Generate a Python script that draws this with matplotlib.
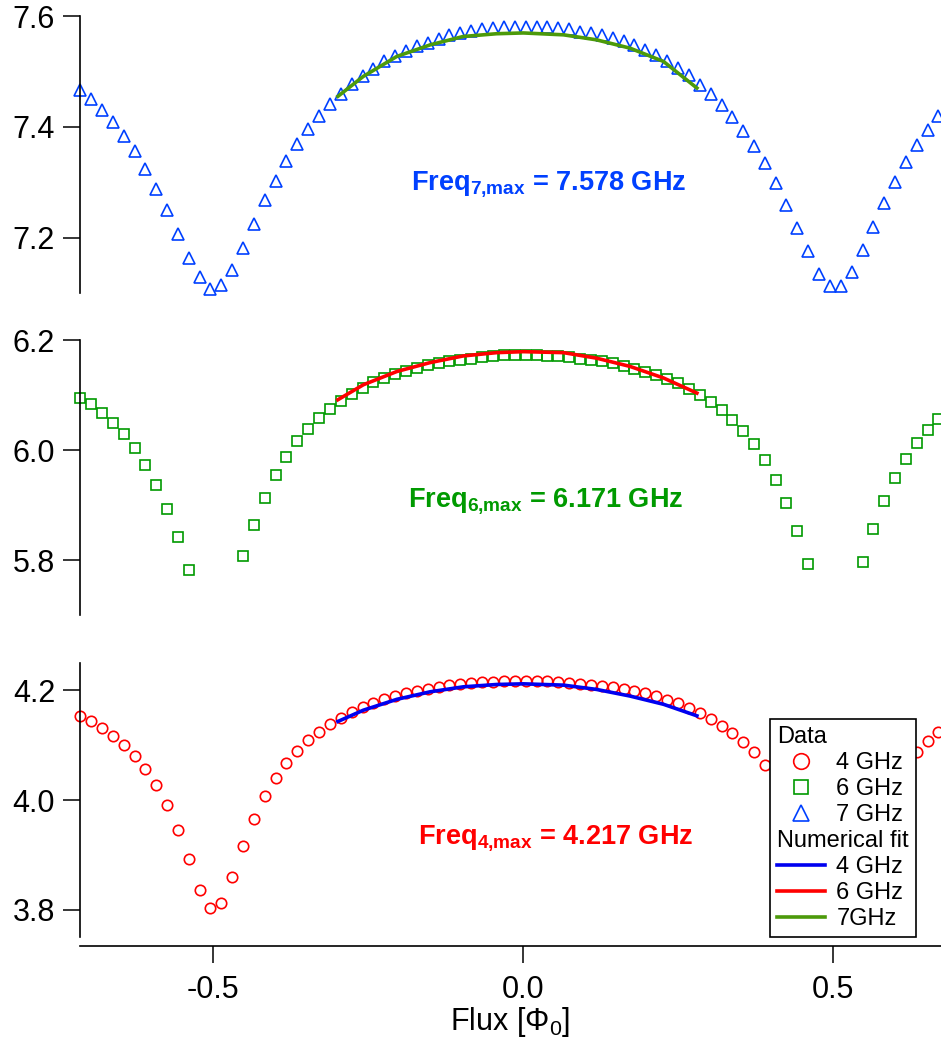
import matplotlib
matplotlib.use('Agg')
import numpy as np
import matplotlib.pyplot as plt
from matplotlib.lines import Line2D

plt.rcParams['font.family'] = ['Liberation Sans', 'DejaVu Sans']
plt.rcParams['mathtext.fontset'] = 'custom'
plt.rcParams['mathtext.rm'] = 'Liberation Sans'
plt.rcParams['mathtext.it'] = 'Liberation Sans:italic'
plt.rcParams['mathtext.bf'] = 'Liberation Sans:bold'

nan = np.nan

# flux bias points (in units of flux quantum)
flux = [-0.715, -0.6973, -0.680, -0.6623, -0.6445, -0.6268, -0.6097, -0.5919, -0.5747, -0.5569,
        -0.5397, -0.5219, -0.5048, -0.4871, -0.4694, -0.4521, -0.4344, -0.4171, -0.3994, -0.3823,
        -0.3645, -0.3468, -0.3295, -0.3118, -0.2945, -0.2768, -0.2590, -0.2419, -0.2242, -0.2065,
        -0.1892, -0.1719, -0.1542, -0.1365, -0.1194, -0.1016, -0.0844, -0.0671, -0.0494, -0.0316,
        -0.0139, 0.0039, 0.0216, 0.0387, 0.0565, 0.0742, 0.0919, 0.1092, 0.1269, 0.1442,
        0.1619, 0.1790, 0.1968, 0.2145, 0.2323, 0.2500, 0.2673, 0.2850, 0.3023, 0.3200,
        0.3371, 0.3544, 0.3721, 0.3894, 0.4071, 0.4242, 0.4419, 0.4597, 0.4769, 0.4947,
        0.5119, 0.5297, 0.5474, 0.5645, 0.5818, 0.5995, 0.6173, 0.6350, 0.6523, 0.6694]

# measured frequencies [GHz]
f7 = [7.467, 7.451, 7.431, 7.409, 7.384, 7.356, 7.323, 7.287, 7.249, 7.206,
      7.164, 7.128, 7.108, 7.114, 7.142, 7.182, 7.225, 7.267, 7.303, 7.338,
      7.369, 7.396, 7.420, 7.441, 7.460, 7.478, 7.492, 7.505, 7.518, 7.527,
      7.537, 7.545, 7.552, 7.559, 7.565, 7.569, 7.573, 7.577, 7.578, 7.580,
      7.581, 7.581, 7.581, 7.580, 7.578, 7.577, 7.572, 7.570, 7.566, 7.560,
      7.554, 7.547, 7.539, 7.530, 7.519, 7.507, 7.493, 7.476, 7.459, 7.439,
      7.418, 7.393, 7.365, 7.334, 7.298, 7.259, 7.217, 7.175, 7.135, 7.113,
      7.113, 7.138, 7.177, 7.220, 7.263, 7.301, 7.336, 7.368, 7.395, 7.420]

f6 = [6.094, 6.083, 6.067, 6.050, 6.029, 6.004, 5.973, 5.937, 5.893, 5.841,
      5.781, nan, nan, nan, nan, 5.807, 5.8645, 5.913, 5.954, 5.988,
      6.016, 6.039, 6.058, 6.075, 6.090, 6.102, 6.113, 6.123, 6.131, 6.138,
      6.1445, 6.149, 6.154, 6.158, 6.162, 6.164, 6.166, 6.170, 6.171, 6.172,
      6.172, 6.172, 6.172, 6.1716, 6.171, 6.1687, 6.166, 6.164, 6.161, 6.158,
      6.1535, 6.148, 6.142, 6.136, 6.129, 6.121, 6.111, 6.100, 6.087, 6.073,
      6.055, 6.035, 6.0105, 5.9815, 5.946, 5.904, 5.8525, 5.793, nan, nan,
      nan, nan, 5.797, 5.856, 5.907, 5.949, 5.984, 6.012, 6.037, 6.057]

f4 = [4.154, 4.144, 4.132, 4.117, 4.101, 4.080, 4.056, 4.0265, 3.990, 3.945,
      3.892, 3.836, 3.8025, 3.812, 3.860, 3.9156, 3.9657, 4.007, 4.041, 4.067,
      4.090, 4.109, 4.125, 4.139, 4.1505, 4.161, 4.170, 4.1776, 4.184, 4.190,
      4.195, 4.199, 4.203, 4.2065, 4.209, 4.2115, 4.213, 4.2145, 4.2155, 4.217,
      4.2174, 4.2174, 4.2174, 4.217, 4.2155, 4.2137, 4.212, 4.210, 4.208, 4.2054,
      4.2023, 4.1987, 4.1946, 4.189, 4.183, 4.1765, 4.1686, 4.1584, 4.1476, 4.135,
      4.1223, 4.1066, 4.0873, 4.063, 4.038, 4.005, 3.965, 3.915, 3.860, 3.810,
      3.805, 3.835, 3.890, 3.943, 3.988, 4.025, 4.058, 4.088, 4.108, 4.124]

# numerical fits
fit_flux = [-0.299, -0.258, -0.204, -0.150, -0.097, -0.043, 0.0, 0.065, 0.118, 0.172, 0.226, 0.280]
fit7 = [7.455, 7.491, 7.527, 7.548, 7.563, 7.568, 7.5694, 7.566, 7.557, 7.542, 7.518, 7.470]
fit6 = [6.0914, 6.1186, 6.1427, 6.159, 6.171, 6.177, 6.1788, 6.177, 6.167, 6.152, 6.131, 6.1035]
fit4 = [4.1433, 4.1639, 4.1837, 4.1975, 4.2065, 4.2108, 4.212, 4.2096, 4.2018, 4.1897, 4.1747, 4.1536]

c_blue = '#0040FF'
c_green = '#009A00'
c_red = '#FF0000'
c_fit7 = '#4C9A0A'
c_fit4 = '#0000F0'

W, H = 941, 1042
fig = plt.figure(figsize=(W / 100, H / 100), dpi=100)
left = 80 / W
width = 1 - left
ax7 = fig.add_axes([left, 1 - 293 / H, width, 277 / H])
ax6 = fig.add_axes([left, 1 - 615 / H, width, 275 / H], sharex=ax7)
ax4 = fig.add_axes([left, 1 - 937 / H, width, 274 / H], sharex=ax7)

ms = 7.5
mew = 1.2
p4, = ax4.plot(flux, f4, 'o', ms=ms, mfc='none', mec=c_red, mew=mew, clip_on=False, label='4 GHz')
p6, = ax6.plot(flux, f6, 's', ms=ms - 0.5, mfc='none', mec=c_green, mew=mew, clip_on=False, label='6 GHz')
p7, = ax7.plot(flux, f7, '^', ms=ms + 0.5, mfc='none', mec=c_blue, mew=mew, clip_on=False, label='7 GHz')

l4, = ax4.plot(fit_flux, fit4, '-', color=c_fit4, lw=2.6, label='4 GHz')
l6, = ax6.plot(fit_flux, fit6, '-', color=c_red, lw=2.6, label='6 GHz')
l7, = ax7.plot(fit_flux, fit7, '-', color=c_fit7, lw=2.6, label='7GHz')

ax7.set_ylim(7.1, 7.6)
ax6.set_ylim(5.7, 6.2)
ax4.set_ylim(3.75, 4.25)
ax7.set_yticks([7.2, 7.4, 7.6])
ax6.set_yticks([5.8, 6.0, 6.2])
ax4.set_yticks([3.8, 4.0, 4.2])
ax4.set_xlim(-0.715, 0.6737)
ax4.set_xticks([-0.5, 0.0, 0.5])

for ax in (ax7, ax6, ax4):
    for s in ('top', 'right'):
        ax.spines[s].set_visible(False)
    ax.spines['left'].set_linewidth(1.2)
    ax.spines['bottom'].set_linewidth(1.2)
    ax.tick_params(axis='both', direction='out', length=12, width=1.1, labelsize=22)
    ax.tick_params(axis='y', pad=6)
    ax.yaxis.set_major_formatter(plt.FormatStrFormatter('%.1f'))
for ax in (ax7, ax6):
    ax.spines['bottom'].set_visible(False)
    ax.tick_params(axis='x', bottom=False, labelbottom=False)
ax4.spines['bottom'].set_position(('outward', 6.3))
ax4.tick_params(axis='x', pad=9)
ax4.xaxis.set_major_formatter(plt.FormatStrFormatter('%.1f'))
ax4.set_xlabel('Flux [Φ$_0$]', fontsize=22, labelpad=0)

ax7.text(0.385, 0.372, r'Freq$_{\mathbf{7{,}max}}$ = 7.578 GHz', transform=ax7.transAxes,
         color=c_blue, fontsize=19.5, fontweight='bold', ha='left', va='baseline')
ax6.text(0.381, 0.394, r'Freq$_{\mathbf{6{,}max}}$ = 6.171 GHz', transform=ax6.transAxes,
         color=c_green, fontsize=19.5, fontweight='bold', ha='left', va='baseline')
ax4.text(0.392, 0.342, r'Freq$_{\mathbf{4{,}max}}$ = 4.217 GHz', transform=ax4.transAxes,
         color=c_red, fontsize=19.5, fontweight='bold', ha='left', va='baseline')

# legend with two section headers
hdr_data = Line2D([], [], ls='none')
hdr_fit = Line2D([], [], ls='none')
handles = [hdr_data, p4, p6, p7, hdr_fit, l4, l6, l7]
labels = ['Data', '4 GHz', '6 GHz', '7 GHz', 'Numerical fit', '4 GHz', '6 GHz', '7GHz']
leg = ax4.legend(handles, labels, loc='lower right', bbox_to_anchor=(0.971, 0.0),
                 borderaxespad=0, fontsize=17, markerscale=1.5, handlelength=2.0,
                 handletextpad=0.5, labelspacing=0.17, borderpad=0.3,
                 fancybox=False, framealpha=1, edgecolor='black')
leg.get_frame().set_linewidth(1.2)
leg.set_zorder(10)
for col in leg._legend_handle_box.get_children():
    for item in col.get_children():
        da, txt = item.get_children()
        if txt.get_children()[0].get_text() in ('Data', 'Numerical fit'):
            da.width = 0
            item.sep = 0

fig.savefig('out.png', dpi=100)
